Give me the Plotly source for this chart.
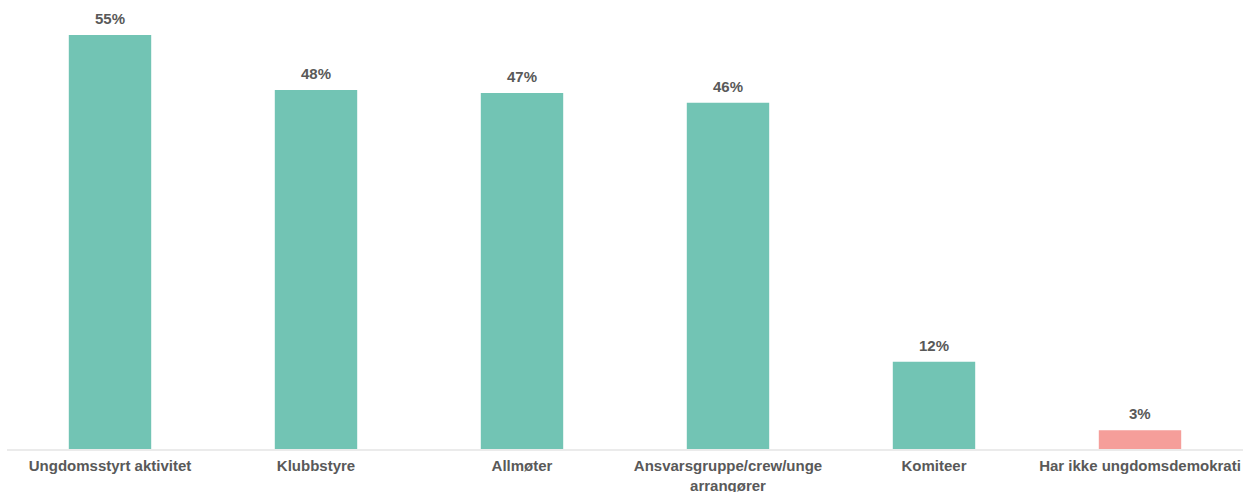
import plotly.graph_objects as go

categories = ["Ungdomsstyrt aktivitet", "Klubbstyre", "Allmøter",
              "Ansvarsgruppe/crew/unge<br>arrangører", "Komiteer",
              "Har ikke ungdomsdemokrati"]
values = [55, 47.7, 47.3, 46, 11.6, 2.5]
labels = ["55%", "48%", "47%", "46%", "12%", "3%"]
colors = ["#72C4B4", "#72C4B4", "#72C4B4", "#72C4B4", "#72C4B4", "#F59E9A"]

FONT = "Liberation Sans"
GREY = "#595959"

fig = go.Figure(go.Bar(
    x=categories, y=values,
    marker=dict(color=colors, line=dict(width=0)),
    width=0.4, hoverinfo="x+y",
))
for c, v, t in zip(categories, values, labels):
    fig.add_annotation(x=c, y=v, text="<b>" + t + "</b>", showarrow=False,
                       yanchor="bottom", yshift=6,
                       font=dict(family=FONT, size=15, color=GREY))
fig.update_layout(
    width=1248, height=492,
    margin=dict(l=7, r=5, t=20, b=43),
    plot_bgcolor="white", paper_bgcolor="white",
    showlegend=False,
    font=dict(family=FONT, color=GREY),
)
fig.update_xaxes(showline=True, linecolor="#EBEBEB", linewidth=2,
                 tickfont=dict(family=FONT, size=15, color=GREY),
                 ticks="", showgrid=False, automargin=False,
                 ticklabelstandoff=2,
                 tickvals=categories,
                 ticktext=["<b>" + c + "</b>" for c in categories])
fig.update_yaxes(visible=False, range=[0, 57], showgrid=False, zeroline=False,
                 automargin=False)
fig.write_html("out.html", config={"displayModeBar": False},
               post_script="document.body.style.margin='0';")
